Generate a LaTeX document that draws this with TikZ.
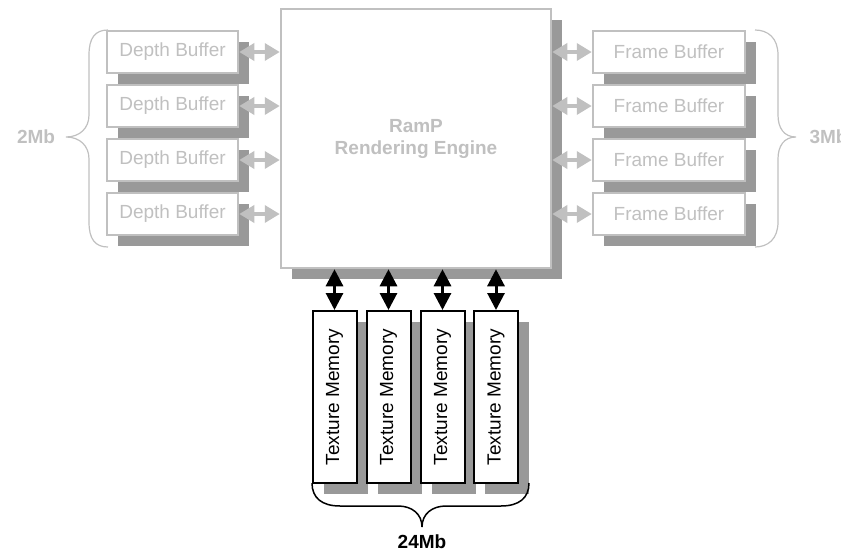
\documentclass[tikz,border=0pt]{standalone}
\usepackage{fontspec}
\setmainfont{Liberation Sans}
\usetikzlibrary{arrows.meta,shadows}
\definecolor{lgray}{HTML}{C0C0C0}
\definecolor{sgray}{HTML}{999999}
\begin{document}
\begin{tikzpicture}[x=1pt,y=-1pt,
  every node/.style={font=\fontsize{19}{22}\selectfont},
  shad/.style={drop shadow={shadow xshift=11pt,shadow yshift=-11pt,fill=sgray,opacity=1}},
  graybox/.style={draw=lgray,line width=2.5pt,fill=white,text=lgray,inner sep=0pt,shad},
  texbox/.style={draw=black,line width=2pt,fill=white,inner sep=0pt,minimum width=44pt,minimum height=172pt,shad},
  graylink/.style={draw=lgray,line width=3.5pt,{Triangle[length=15pt,width=17pt]}-{Triangle[length=15pt,width=17pt]}},
  blacklink/.style={draw=black,line width=3pt,{Triangle[length=17pt,width=17pt]}-{Triangle[length=17pt,width=17pt]}},
  brace/.style={draw=lgray,line width=1.2pt},
  lbl/.style={font=\fontsize{19}{22}\selectfont\bfseries}
]
\useasboundingbox (0,0) rectangle (841,554);
% main engine
\node[graybox,minimum width=270pt,minimum height=259pt,align=center,font=\fontsize{19}{22}\selectfont\bfseries] (main) at (416,138.5) {RamP\\Rendering Engine};
% depth buffers
\foreach \i/\y in {1/52,2/106,3/160,4/214}{
  \node[graybox,minimum width=131pt,minimum height=42pt] (d\i) at (172.5,\y) {Depth Buffer};
  \node[graybox,minimum width=152pt,minimum height=42pt] (f\i) at (669,\y) {Frame Buffer};
}
\foreach \i in {1,2,3,4}{
  \draw[graylink] (d\i.east) -- (main.west |- d\i.east);
  \draw[graylink] (main.east |- f\i.west) -- (f\i.west);
}
% texture memories
\foreach \i/\x in {1/334.5,2/388.5,3/442.5,4/496}{
  \node[texbox] (t\i) at (\x,397) {};
  \node[rotate=90] at (t\i.center) {Texture Memory};
  \draw[blacklink] (main.south -| t\i.north) -- (t\i.north);
}
% braces
\draw[brace] (108,30) .. controls (95,30) and (89,38) .. (89,55) -- (89,115)
  .. controls (89,128) and (80,137) .. (66,137)
  .. controls (80,137) and (89,146) .. (89,159) -- (89,222)
  .. controls (89,239) and (95,247) .. (108,247);
\draw[brace] (755,30) .. controls (768,30) and (778,38) .. (778,55) -- (778,115)
  .. controls (778,128) and (784,137) .. (796,137)
  .. controls (784,137) and (778,146) .. (778,159) -- (778,222)
  .. controls (778,239) and (768,247) .. (755,247);
\draw[line width=1.5pt] (312,483) .. controls (312,498) and (322,506) .. (340,506) -- (398,506)
  .. controls (412,506) and (422,514) .. (422,527)
  .. controls (422,514) and (432,506) .. (446,506) -- (501,506)
  .. controls (519,506) and (529,498) .. (529,483);
\node[lbl,text=lgray] (m2) at (36,137) {2Mb};
\node[lbl,text=lgray,anchor=west] (m3) at (806,137) {3Mb};
\node[lbl] (m24) at (422,542) {24Mb};
\end{tikzpicture}
\end{document}
